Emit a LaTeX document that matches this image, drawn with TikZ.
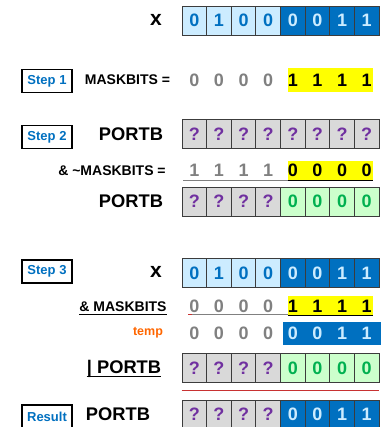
\documentclass[tikz,border=0pt]{standalone}
\usepackage{fontspec}
\setmainfont{Liberation Sans}
\usepackage{tikz}
\usetikzlibrary{positioning}
\definecolor{nibblelight}{RGB}{204,236,255}
\definecolor{nibbledark}{RGB}{0,112,192}
\definecolor{unknowngray}{RGB}{217,217,217}
\definecolor{qpurple}{RGB}{112,48,160}
\definecolor{cleargreen}{RGB}{204,255,204}
\definecolor{zerogreen}{RGB}{0,176,80}
\definecolor{maskyellow}{RGB}{255,255,0}
\definecolor{digitgray}{RGB}{128,128,128}
\definecolor{temporange}{RGB}{255,102,0}
\definecolor{cellborder}{RGB}{60,60,60}
\definecolor{sumred}{RGB}{200,50,50}
\newcommand{\cellx}[1]{182+24.625*(#1-0.5)}
\tikzset{
  cell/.style    = {draw=cellborder, line width=0.8pt, minimum width=24.6pt,
                    minimum height=29pt, inner sep=0pt,
                    font=\fontsize{18}{18}\selectfont\bfseries},
  xlo/.style     = {cell, fill=nibblelight, text=nibbledark},
  xhi/.style     = {cell, fill=nibbledark, text=nibblelight},
  unk/.style     = {cell, fill=unknowngray, text=qpurple},
  clr/.style     = {cell, fill=cleargreen, text=zerogreen},
  bit/.style     = {inner sep=0pt, text=digitgray,
                    font=\fontsize{18}{18}\selectfont\bfseries},
  onbit/.style   = {bit, text=black},
  hibit/.style   = {bit, text=nibblelight},
  maskbar/.style = {fill=maskyellow, inner sep=0pt, minimum width=85pt},
  stepbox/.style = {draw=black, line width=1.5pt, fill=white, minimum width=50pt,
                    minimum height=23pt, inner sep=0pt, text=nibbledark,
                    font=\fontsize{13}{13}\selectfont\bfseries},
  lbl/.style     = {inner sep=0pt, font=\fontsize{14}{14}\selectfont\bfseries},
  biglbl/.style  = {inner sep=0pt, font=\fontsize{18.3}{18}\selectfont\bfseries},
}

\begin{document}
\begin{tikzpicture}[x=1pt, y=-1pt]
  \clip (0,0) rectangle (390,427);

  % x
  \node[biglbl, font=\fontsize{21}{21}\selectfont\bfseries] (xlbla) at (156,20) {x};
  \foreach \b [count=\i] in {0,1,0,0}
    \node[xlo] (xa-\i) at ({\cellx{\i}},20.5) {\b};
  \foreach \b [count=\i from 5] in {0,0,1,1}
    \node[xhi] (xa-\i) at ({\cellx{\i}},20.5) {\b};

  % step 1
  \node[stepbox] (step1) at (47,81) {Step 1};
  \node[lbl] (mklbl) at (127.5,80) {MASKBITS =};
  \node[maskbar, minimum height=24pt] (mkbar) at (330.5,80) {};
  \foreach \i in {1,...,4}
    \node[bit] (mk-\i) at ({\cellx{\i}},80) {0};
  \foreach \i in {5,...,8}
    \node[onbit] (mk-\i) at ({\cellx{\i}},80) {1};

  % step 2
  \node[stepbox] (step2) at (47,137) {Step 2};
  \node[biglbl] (palbl) at (131,134) {PORTB};
  \foreach \i in {1,...,8}
    \node[unk] (pa-\i) at ({\cellx{\i}},134) {?};

  \node[lbl] (nmlbl) at (112,171) {\& \textasciitilde MASKBITS =};
  \node[maskbar, minimum height=20pt] (nmbar) at (330.5,171) {};
  \foreach \i in {1,...,4}
    \node[bit] (nm-\i) at ({\cellx{\i}},170) {1};
  \foreach \i in {5,...,8}
    \node[onbit] (nm-\i) at ({\cellx{\i}},170) {0};
  \coordinate (nmstart) at (183,180);
  \draw[digitgray, line width=0.8pt] (nmstart) -- (nmstart -| nmbar.west);
  \draw[line width=1.2pt] ([yshift=1pt]nmbar.south west) -- ([yshift=1pt]nmbar.south east);

  \node[biglbl] (pblbl) at (131,201) {PORTB};
  \foreach \i in {1,...,4}
    \node[unk] (pb-\i) at ({\cellx{\i}},201.5) {?};
  \foreach \i in {5,...,8}
    \node[clr] (pb-\i) at ({\cellx{\i}},201.5) {0};

  % step 3
  \node[stepbox] (step3) at (47,271.5) {Step 3};
  \node[biglbl, font=\fontsize{21}{21}\selectfont\bfseries] (xlblb) at (156,272) {x};
  \foreach \b [count=\i] in {0,1,0,0}
    \node[xlo] (xb-\i) at ({\cellx{\i}},273) {\b};
  \foreach \b [count=\i from 5] in {0,0,1,1}
    \node[xhi] (xb-\i) at ({\cellx{\i}},273) {\b};

  \node[lbl] (mblbl) at (123,307) {\& MASKBITS};
  \draw[line width=1pt] ([yshift=-3pt]mblbl.base west) -- ([yshift=-3pt]mblbl.base east);
  \node[maskbar, minimum height=20pt] (mbbar) at (330.5,306) {};
  \foreach \i in {1,...,4}
    \node[bit] (mb-\i) at ({\cellx{\i}},306) {0};
  \foreach \i in {5,...,8}
    \node[onbit] (mb-\i) at ({\cellx{\i}},306) {1};
  \coordinate (mbstart) at (188,314.5);
  \draw[digitgray, line width=0.8pt] ([xshift=4pt]mbstart) -- (mbstart -| mbbar.west);
  \draw[sumred, line width=0.8pt] (mbstart) -- ++(4,0);
  \draw[line width=1.2pt] ([yshift=1pt]mbbar.south west) -- ([yshift=1pt]mbbar.south east);

  \node[inner sep=0pt, text=temporange, font=\fontsize{12.5}{12}\selectfont\bfseries]
    (tmplbl) at (148,333) {temp};
  \node[fill=nibbledark, inner sep=0pt, minimum width=98pt, minimum height=23pt]
    (tmpbar) at (332,333.5) {};
  \foreach \i in {1,...,4}
    \node[bit] (tmp-\i) at ({\cellx{\i}},333) {0};
  \foreach \b [count=\i from 5] in {0,0,1,1}
    \node[hibit] (tmp-\i) at ({\cellx{\i}},333) {\b};

  \node[biglbl] (pclbl) at (124,369) {| PORTB};
  \draw[line width=1pt] ([yshift=-3pt]pclbl.base west) -- ([yshift=-3pt]pclbl.base east);
  \foreach \i in {1,...,4}
    \node[unk] (pc-\i) at ({\cellx{\i}},368) {?};
  \foreach \i in {5,...,8}
    \node[clr] (pc-\i) at ({\cellx{\i}},368) {0};
  \draw[sumred, line width=1pt] ([yshift=-8pt]pc-1.south west) -- ([yshift=-8pt]pc-8.south east);

  % result
  \node[stepbox] (result) at (47,416.5) {Result};
  \node[biglbl] (prlbl) at (118,414) {PORTB};
  \foreach \i in {1,...,4}
    \node[unk] (pr-\i) at ({\cellx{\i}},414.5) {?};
  \foreach \b [count=\i from 5] in {0,0,1,1}
    \node[xhi] (pr-\i) at ({\cellx{\i}},414.5) {\b};
\end{tikzpicture}
\end{document}
